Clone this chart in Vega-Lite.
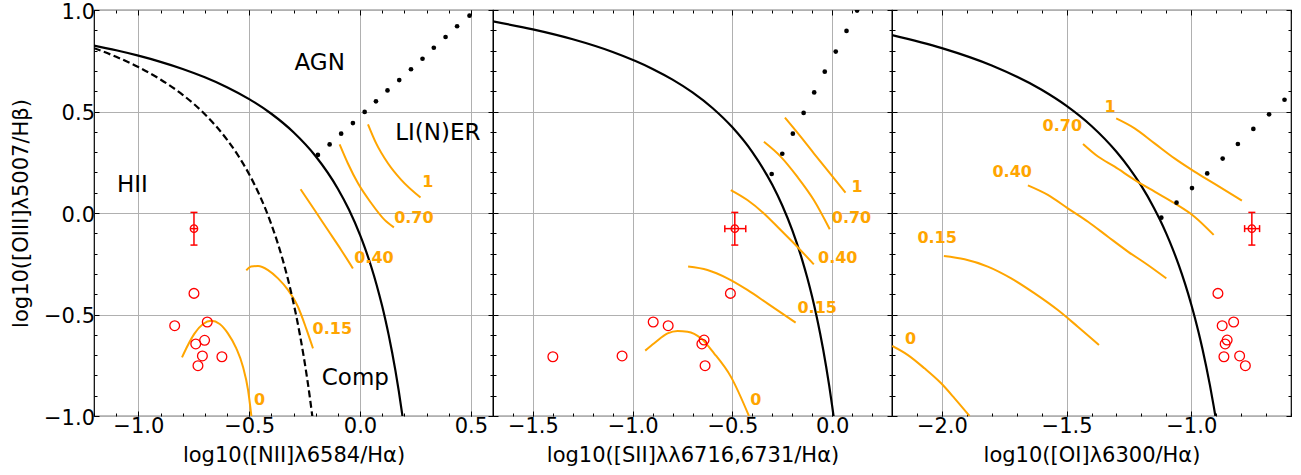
{
"$schema": "https://vega.github.io/schema/vega-lite/v6.json",
"background": "white",
"padding": {"left": 9, "top": 0, "right": 0, "bottom": 0},
"spacing": 0,
"bounds": "flush",
"config": {
 "font": "DejaVu Sans",
 "view": {"stroke": "black", "strokeWidth": 1.2},
 "axis": {"domain": false, "labelFont": "DejaVu Sans", "labelFontSize": 21, "labelColor": "black", "titleFont": "DejaVu Sans", "titleFontSize": 21, "titleFontWeight": "normal", "titleColor": "black", "tickColor": "black", "tickWidth": 1, "gridColor": "#b0b0b0", "gridWidth": 1, "gridOpacity": 1, "labelFlush": false, "labelOverlap": false, "labelPadding": 4, "titlePadding": 8},
 "text": {"font": "DejaVu Sans"}
},
"datasets": {
 "curves": [
  {"panel":1,"kind":"kewley","line":"K","x":-1.2,"y":0.825},
  {"panel":1,"kind":"kewley","line":"K","x":-1.1,"y":0.8015},
  {"panel":1,"kind":"kewley","line":"K","x":-1.0,"y":0.775},
  {"panel":1,"kind":"kewley","line":"K","x":-0.9,"y":0.7447},
  {"panel":1,"kind":"kewley","line":"K","x":-0.8,"y":0.7097},
  {"panel":1,"kind":"kewley","line":"K","x":-0.7,"y":0.6686},
  {"panel":1,"kind":"kewley","line":"K","x":-0.6,"y":0.6199},
  {"panel":1,"kind":"kewley","line":"K","x":-0.5,"y":0.5611},
  {"panel":1,"kind":"kewley","line":"K","x":-0.4,"y":0.4889},
  {"panel":1,"kind":"kewley","line":"K","x":-0.3,"y":0.3978},
  {"panel":1,"kind":"kewley","line":"K","x":-0.2,"y":0.2796},
  {"panel":1,"kind":"kewley","line":"K","x":-0.1,"y":0.1198},
  {"panel":1,"kind":"kewley","line":"K","x":-0.05,"y":0.0169},
  {"panel":1,"kind":"kewley","line":"K","x":0.0,"y":-0.1079},
  {"panel":1,"kind":"kewley","line":"K","x":0.02,"y":-0.1656},
  {"panel":1,"kind":"kewley","line":"K","x":0.05,"y":-0.2624},
  {"panel":1,"kind":"kewley","line":"K","x":0.075,"y":-0.3543},
  {"panel":1,"kind":"kewley","line":"K","x":0.1,"y":-0.4586},
  {"panel":1,"kind":"kewley","line":"K","x":0.115,"y":-0.5283},
  {"panel":1,"kind":"kewley","line":"K","x":0.13,"y":-0.6041},
  {"panel":1,"kind":"kewley","line":"K","x":0.145,"y":-0.6869},
  {"panel":1,"kind":"kewley","line":"K","x":0.16,"y":-0.7777},
  {"panel":1,"kind":"kewley","line":"K","x":0.175,"y":-0.8778},
  {"panel":1,"kind":"kewley","line":"K","x":0.19,"y":-0.9886},
  {"panel":1,"kind":"kewley","line":"K","x":0.1915,"y":-1.0003},
  {"panel":1,"kind":"kauffmann","line":"Ka","x":-1.2,"y":0.812},
  {"panel":1,"kind":"kauffmann","line":"Ka","x":-1.1,"y":0.7696},
  {"panel":1,"kind":"kauffmann","line":"Ka","x":-1.0,"y":0.719},
  {"panel":1,"kind":"kauffmann","line":"Ka","x":-0.9,"y":0.6579},
  {"panel":1,"kind":"kauffmann","line":"Ka","x":-0.8,"y":0.5824},
  {"panel":1,"kind":"kauffmann","line":"Ka","x":-0.7,"y":0.4867},
  {"panel":1,"kind":"kauffmann","line":"Ka","x":-0.6,"y":0.3615},
  {"panel":1,"kind":"kauffmann","line":"Ka","x":-0.55,"y":0.2833},
  {"panel":1,"kind":"kauffmann","line":"Ka","x":-0.5,"y":0.1909},
  {"panel":1,"kind":"kauffmann","line":"Ka","x":-0.45,"y":0.08},
  {"panel":1,"kind":"kauffmann","line":"Ka","x":-0.4,"y":-0.0556},
  {"panel":1,"kind":"kauffmann","line":"Ka","x":-0.35,"y":-0.225},
  {"panel":1,"kind":"kauffmann","line":"Ka","x":-0.325,"y":-0.3267},
  {"panel":1,"kind":"kauffmann","line":"Ka","x":-0.3,"y":-0.4429},
  {"panel":1,"kind":"kauffmann","line":"Ka","x":-0.285,"y":-0.5209},
  {"panel":1,"kind":"kauffmann","line":"Ka","x":-0.27,"y":-0.6063},
  {"panel":1,"kind":"kauffmann","line":"Ka","x":-0.255,"y":-0.7},
  {"panel":1,"kind":"kauffmann","line":"Ka","x":-0.24,"y":-0.8034},
  {"panel":1,"kind":"kauffmann","line":"Ka","x":-0.228,"y":-0.8942},
  {"panel":1,"kind":"kauffmann","line":"Ka","x":-0.215,"y":-1.0019},
  {"panel":1,"kind":"model","line":"0","x":-0.803,"y":-0.711},
  {"panel":1,"kind":"model","line":"0","x":-0.776,"y":-0.650},
  {"panel":1,"kind":"model","line":"0","x":-0.746,"y":-0.593},
  {"panel":1,"kind":"model","line":"0","x":-0.708,"y":-0.547},
  {"panel":1,"kind":"model","line":"0","x":-0.671,"y":-0.531},
  {"panel":1,"kind":"model","line":"0","x":-0.633,"y":-0.547},
  {"panel":1,"kind":"model","line":"0","x":-0.596,"y":-0.593},
  {"panel":1,"kind":"model","line":"0","x":-0.558,"y":-0.667},
  {"panel":1,"kind":"model","line":"0","x":-0.528,"y":-0.757},
  {"panel":1,"kind":"model","line":"0","x":-0.505,"y":-0.872},
  {"panel":1,"kind":"model","line":"0","x":-0.490,"y":-1.0},
  {"panel":1,"kind":"model","line":"0.15","x":-0.513,"y":-0.283},
  {"panel":1,"kind":"model","line":"0.15","x":-0.491,"y":-0.264},
  {"panel":1,"kind":"model","line":"0.15","x":-0.460,"y":-0.261},
  {"panel":1,"kind":"model","line":"0.15","x":-0.415,"y":-0.281},
  {"panel":1,"kind":"model","line":"0.15","x":-0.370,"y":-0.322},
  {"panel":1,"kind":"model","line":"0.15","x":-0.325,"y":-0.379},
  {"panel":1,"kind":"model","line":"0.15","x":-0.280,"y":-0.462},
  {"panel":1,"kind":"model","line":"0.15","x":-0.243,"y":-0.568},
  {"panel":1,"kind":"model","line":"0.15","x":-0.212,"y":-0.667},
  {"panel":1,"kind":"model","line":"0.40","x":-0.268,"y":0.117},
  {"panel":1,"kind":"model","line":"0.40","x":-0.205,"y":0.015},
  {"panel":1,"kind":"model","line":"0.40","x":-0.145,"y":-0.084},
  {"panel":1,"kind":"model","line":"0.40","x":-0.085,"y":-0.182},
  {"panel":1,"kind":"model","line":"0.40","x":-0.032,"y":-0.273},
  {"panel":1,"kind":"model","line":"0.70","x":-0.092,"y":0.338},
  {"panel":1,"kind":"model","line":"0.70","x":-0.055,"y":0.245},
  {"panel":1,"kind":"model","line":"0.70","x":-0.009,"y":0.146},
  {"panel":1,"kind":"model","line":"0.70","x":0.051,"y":0.048},
  {"panel":1,"kind":"model","line":"0.70","x":0.111,"y":-0.034},
  {"panel":1,"kind":"model","line":"0.70","x":0.153,"y":-0.071},
  {"panel":1,"kind":"model","line":"1","x":0.036,"y":0.437},
  {"panel":1,"kind":"model","line":"1","x":0.073,"y":0.343},
  {"panel":1,"kind":"model","line":"1","x":0.126,"y":0.245},
  {"panel":1,"kind":"model","line":"1","x":0.186,"y":0.163},
  {"panel":1,"kind":"model","line":"1","x":0.273,"y":0.076},
  {"panel":2,"kind":"kewley","line":"K","x":-1.7,"y":0.9436},
  {"panel":2,"kind":"kewley","line":"K","x":-1.5,"y":0.9044},
  {"panel":2,"kind":"kewley","line":"K","x":-1.3,"y":0.8556},
  {"panel":2,"kind":"kewley","line":"K","x":-1.1,"y":0.793},
  {"panel":2,"kind":"kewley","line":"K","x":-0.9,"y":0.7098},
  {"panel":2,"kind":"kewley","line":"K","x":-0.8,"y":0.6571},
  {"panel":2,"kind":"kewley","line":"K","x":-0.7,"y":0.5941},
  {"panel":2,"kind":"kewley","line":"K","x":-0.6,"y":0.5174},
  {"panel":2,"kind":"kewley","line":"K","x":-0.5,"y":0.422},
  {"panel":2,"kind":"kewley","line":"K","x":-0.4,"y":0.3},
  {"panel":2,"kind":"kewley","line":"K","x":-0.3,"y":0.1387},
  {"panel":2,"kind":"kewley","line":"K","x":-0.25,"y":0.0368},
  {"panel":2,"kind":"kewley","line":"K","x":-0.2,"y":-0.0846},
  {"panel":2,"kind":"kewley","line":"K","x":-0.15,"y":-0.2319},
  {"panel":2,"kind":"kewley","line":"K","x":-0.125,"y":-0.318},
  {"panel":2,"kind":"kewley","line":"K","x":-0.1,"y":-0.4143},
  {"panel":2,"kind":"kewley","line":"K","x":-0.08,"y":-0.5},
  {"panel":2,"kind":"kewley","line":"K","x":-0.06,"y":-0.5947},
  {"panel":2,"kind":"kewley","line":"K","x":-0.045,"y":-0.6726},
  {"panel":2,"kind":"kewley","line":"K","x":-0.03,"y":-0.7571},
  {"panel":2,"kind":"kewley","line":"K","x":-0.015,"y":-0.8493},
  {"panel":2,"kind":"kewley","line":"K","x":0.0,"y":-0.95},
  {"panel":2,"kind":"kewley","line":"K","x":0.007,"y":-1.0003},
  {"panel":2,"kind":"model","line":"1","x":-0.237,"y":0.470},
  {"panel":2,"kind":"model","line":"1","x":-0.158,"y":0.376},
  {"panel":2,"kind":"model","line":"1","x":-0.092,"y":0.294},
  {"panel":2,"kind":"model","line":"1","x":-0.025,"y":0.212},
  {"panel":2,"kind":"model","line":"1","x":0.067,"y":0.100},
  {"panel":2,"kind":"model","line":"0.70","x":-0.342,"y":0.351},
  {"panel":2,"kind":"model","line":"0.70","x":-0.258,"y":0.278},
  {"panel":2,"kind":"model","line":"0.70","x":-0.175,"y":0.179},
  {"panel":2,"kind":"model","line":"0.70","x":-0.092,"y":0.064},
  {"panel":2,"kind":"model","line":"0.70","x":-0.012,"y":-0.080},
  {"panel":2,"kind":"model","line":"0.40","x":-0.508,"y":0.113},
  {"panel":2,"kind":"model","line":"0.40","x":-0.425,"y":0.064},
  {"panel":2,"kind":"model","line":"0.40","x":-0.342,"y":-0.002},
  {"panel":2,"kind":"model","line":"0.40","x":-0.258,"y":-0.084},
  {"panel":2,"kind":"model","line":"0.40","x":-0.175,"y":-0.166},
  {"panel":2,"kind":"model","line":"0.40","x":-0.092,"y":-0.253},
  {"panel":2,"kind":"model","line":"0.15","x":-0.722,"y":-0.264},
  {"panel":2,"kind":"model","line":"0.15","x":-0.625,"y":-0.281},
  {"panel":2,"kind":"model","line":"0.15","x":-0.525,"y":-0.322},
  {"panel":2,"kind":"model","line":"0.15","x":-0.425,"y":-0.379},
  {"panel":2,"kind":"model","line":"0.15","x":-0.325,"y":-0.445},
  {"panel":2,"kind":"model","line":"0.15","x":-0.183,"y":-0.540},
  {"panel":2,"kind":"model","line":"0","x":-0.937,"y":-0.678},
  {"panel":2,"kind":"model","line":"0","x":-0.892,"y":-0.642},
  {"panel":2,"kind":"model","line":"0","x":-0.825,"y":-0.593},
  {"panel":2,"kind":"model","line":"0","x":-0.775,"y":-0.581},
  {"panel":2,"kind":"model","line":"0","x":-0.725,"y":-0.585},
  {"panel":2,"kind":"model","line":"0","x":-0.658,"y":-0.617},
  {"panel":2,"kind":"model","line":"0","x":-0.592,"y":-0.691},
  {"panel":2,"kind":"model","line":"0","x":-0.508,"y":-0.806},
  {"panel":2,"kind":"model","line":"0","x":-0.417,"y":-1.0},
  {"panel":3,"kind":"kewley","line":"K","x":-2.2,"y":0.8766},
  {"panel":3,"kind":"kewley","line":"K","x":-2.0,"y":0.8123},
  {"panel":3,"kind":"kewley","line":"K","x":-1.8,"y":0.7267},
  {"panel":3,"kind":"kewley","line":"K","x":-1.6,"y":0.6072},
  {"panel":3,"kind":"kewley","line":"K","x":-1.5,"y":0.5278},
  {"panel":3,"kind":"kewley","line":"K","x":-1.4,"y":0.4288},
  {"panel":3,"kind":"kewley","line":"K","x":-1.3,"y":0.3018},
  {"panel":3,"kind":"kewley","line":"K","x":-1.25,"y":0.2239},
  {"panel":3,"kind":"kewley","line":"K","x":-1.2,"y":0.1333},
  {"panel":3,"kind":"kewley","line":"K","x":-1.15,"y":0.0264},
  {"panel":3,"kind":"kewley","line":"K","x":-1.125,"y":-0.0345},
  {"panel":3,"kind":"kewley","line":"K","x":-1.1,"y":-0.1014},
  {"panel":3,"kind":"kewley","line":"K","x":-1.075,"y":-0.1752},
  {"panel":3,"kind":"kewley","line":"K","x":-1.05,"y":-0.257},
  {"panel":3,"kind":"kewley","line":"K","x":-1.025,"y":-0.3482},
  {"panel":3,"kind":"kewley","line":"K","x":-1.0,"y":-0.4505},
  {"panel":3,"kind":"kewley","line":"K","x":-0.985,"y":-0.5181},
  {"panel":3,"kind":"kewley","line":"K","x":-0.97,"y":-0.5911},
  {"panel":3,"kind":"kewley","line":"K","x":-0.955,"y":-0.67},
  {"panel":3,"kind":"kewley","line":"K","x":-0.94,"y":-0.7557},
  {"panel":3,"kind":"kewley","line":"K","x":-0.925,"y":-0.8491},
  {"panel":3,"kind":"kewley","line":"K","x":-0.91,"y":-0.9513},
  {"panel":3,"kind":"kewley","line":"K","x":-0.903,"y":-1.0023},
  {"panel":3,"kind":"model","line":"1","x":-1.301,"y":0.466},
  {"panel":3,"kind":"model","line":"1","x":-1.227,"y":0.417},
  {"panel":3,"kind":"model","line":"1","x":-1.147,"y":0.343},
  {"panel":3,"kind":"model","line":"1","x":-1.067,"y":0.269},
  {"panel":3,"kind":"model","line":"1","x":-0.987,"y":0.204},
  {"panel":3,"kind":"model","line":"1","x":-0.906,"y":0.143},
  {"panel":3,"kind":"model","line":"1","x":-0.797,"y":0.061},
  {"panel":3,"kind":"model","line":"0.70","x":-1.434,"y":0.340},
  {"panel":3,"kind":"model","line":"0.70","x":-1.374,"y":0.278},
  {"panel":3,"kind":"model","line":"0.70","x":-1.307,"y":0.228},
  {"panel":3,"kind":"model","line":"0.70","x":-1.227,"y":0.163},
  {"panel":3,"kind":"model","line":"0.70","x":-1.147,"y":0.105},
  {"panel":3,"kind":"model","line":"0.70","x":-1.067,"y":0.048},
  {"panel":3,"kind":"model","line":"0.70","x":-0.987,"y":-0.018},
  {"panel":3,"kind":"model","line":"0.70","x":-0.910,"y":-0.108},
  {"panel":3,"kind":"model","line":"0.40","x":-1.655,"y":0.136},
  {"panel":3,"kind":"model","line":"0.40","x":-1.575,"y":0.089},
  {"panel":3,"kind":"model","line":"0.40","x":-1.495,"y":0.023},
  {"panel":3,"kind":"model","line":"0.40","x":-1.414,"y":-0.043},
  {"panel":3,"kind":"model","line":"0.40","x":-1.334,"y":-0.117},
  {"panel":3,"kind":"model","line":"0.40","x":-1.254,"y":-0.190},
  {"panel":3,"kind":"model","line":"0.40","x":-1.174,"y":-0.256},
  {"panel":3,"kind":"model","line":"0.40","x":-1.100,"y":-0.322},
  {"panel":3,"kind":"model","line":"0.15","x":-1.992,"y":-0.212},
  {"panel":3,"kind":"model","line":"0.15","x":-1.909,"y":-0.228},
  {"panel":3,"kind":"model","line":"0.15","x":-1.816,"y":-0.264},
  {"panel":3,"kind":"model","line":"0.15","x":-1.722,"y":-0.322},
  {"panel":3,"kind":"model","line":"0.15","x":-1.628,"y":-0.396},
  {"panel":3,"kind":"model","line":"0.15","x":-1.535,"y":-0.478},
  {"panel":3,"kind":"model","line":"0.15","x":-1.455,"y":-0.560},
  {"panel":3,"kind":"model","line":"0.15","x":-1.370,"y":-0.650},
  {"panel":3,"kind":"model","line":"0","x":-2.199,"y":-0.655},
  {"panel":3,"kind":"model","line":"0","x":-2.136,"y":-0.700},
  {"panel":3,"kind":"model","line":"0","x":-2.070,"y":-0.765},
  {"panel":3,"kind":"model","line":"0","x":-2.003,"y":-0.839},
  {"panel":3,"kind":"model","line":"0","x":-1.949,"y":-0.913},
  {"panel":3,"kind":"model","line":"0","x":-1.889,"y":-1.0}
 ],
 "dots": [
  {"panel":1,"x":-0.190,"y":0.286},{"panel":1,"x":-0.137,"y":0.338},{"panel":1,"x":-0.085,"y":0.391},{"panel":1,"x":-0.032,"y":0.443},{"panel":1,"x":0.021,"y":0.498},{"panel":1,"x":0.072,"y":0.550},{"panel":1,"x":0.124,"y":0.604},{"panel":1,"x":0.177,"y":0.655},{"panel":1,"x":0.230,"y":0.708},{"panel":1,"x":0.282,"y":0.760},{"panel":1,"x":0.333,"y":0.814},{"panel":1,"x":0.386,"y":0.867},{"panel":1,"x":0.438,"y":0.920},{"panel":1,"x":0.494,"y":0.972},
  {"panel":2,"x":-0.303,"y":0.192},{"panel":2,"x":-0.250,"y":0.292},{"panel":2,"x":-0.197,"y":0.391},{"panel":2,"x":-0.143,"y":0.493},{"panel":2,"x":-0.090,"y":0.594},{"panel":2,"x":-0.037,"y":0.696},{"panel":2,"x":0.018,"y":0.795},{"panel":2,"x":0.072,"y":0.897},{"panel":2,"x":0.125,"y":0.997},
  {"panel":3,"x":-1.120,"y":-0.023},{"panel":3,"x":-1.059,"y":0.051},{"panel":3,"x":-0.997,"y":0.123},{"panel":3,"x":-0.936,"y":0.195},{"panel":3,"x":-0.874,"y":0.268},{"panel":3,"x":-0.813,"y":0.340},{"panel":3,"x":-0.751,"y":0.414},{"panel":3,"x":-0.688,"y":0.486},{"panel":3,"x":-0.626,"y":0.558}
 ],
 "obs": [
  {"panel":1,"x":-0.749,"y":-0.396},{"panel":1,"x":-0.836,"y":-0.555},{"panel":1,"x":-0.689,"y":-0.537},{"panel":1,"x":-0.741,"y":-0.645},{"panel":1,"x":-0.701,"y":-0.627},{"panel":1,"x":-0.711,"y":-0.704},{"panel":1,"x":-0.731,"y":-0.752},{"panel":1,"x":-0.623,"y":-0.708},
  {"panel":2,"x":-0.510,"y":-0.396},{"panel":2,"x":-0.822,"y":-0.555},{"panel":2,"x":-0.897,"y":-0.537},{"panel":2,"x":-0.653,"y":-0.645},{"panel":2,"x":-0.642,"y":-0.626},{"panel":2,"x":-1.053,"y":-0.704},{"panel":2,"x":-0.637,"y":-0.752},{"panel":2,"x":-1.400,"y":-0.708},
  {"panel":3,"x":-0.893,"y":-0.396},{"panel":3,"x":-0.876,"y":-0.555},{"panel":3,"x":-0.830,"y":-0.537},{"panel":3,"x":-0.864,"y":-0.645},{"panel":3,"x":-0.856,"y":-0.626},{"panel":3,"x":-0.806,"y":-0.704},{"panel":3,"x":-0.869,"y":-0.708},{"panel":3,"x":-0.783,"y":-0.752}
 ],
 "star": [
  {"panel":1,"x":-0.749,"y":-0.077,"xlo":-0.764,"xhi":-0.734,"ylo":-0.158,"yhi":0.003},
  {"panel":2,"x":-0.488,"y":-0.077,"xlo":-0.538,"xhi":-0.433,"ylo":-0.158,"yhi":0.003},
  {"panel":3,"x":-0.757,"y":-0.077,"xlo":-0.786,"xhi":-0.726,"ylo":-0.158,"yhi":0.003}
 ],
 "olabels": [
  {"panel":1,"x":0.306,"y":0.154,"text":"1"},{"panel":1,"x":0.243,"y":-0.023,"text":"0.70"},{"panel":1,"x":0.063,"y":-0.220,"text":"0.40"},{"panel":1,"x":-0.125,"y":-0.573,"text":"0.15"},{"panel":1,"x":-0.453,"y":-0.921,"text":"0"},
  {"panel":2,"x":0.125,"y":0.130,"text":"1"},{"panel":2,"x":0.097,"y":-0.023,"text":"0.70"},{"panel":2,"x":0.028,"y":-0.220,"text":"0.40"},{"panel":2,"x":-0.075,"y":-0.470,"text":"0.15"},{"panel":2,"x":-0.383,"y":-0.921,"text":"0"},
  {"panel":3,"x":-1.326,"y":0.524,"text":"1"},{"panel":3,"x":-1.517,"y":0.429,"text":"0.70"},{"panel":3,"x":-1.718,"y":0.204,"text":"0.40"},{"panel":3,"x":-2.019,"y":-0.121,"text":"0.15"},{"panel":3,"x":-2.126,"y":-0.622,"text":"0"}
 ],
 "regions": [
  {"panel":1,"x":-0.182,"y":0.737,"text":"AGN"},{"panel":1,"x":-1.027,"y":0.138,"text":"HII"},{"panel":1,"x":0.351,"y":0.392,"text":"LI(N)ER"},{"panel":1,"x":-0.021,"y":-0.811,"text":"Comp"}
 ]
},
"hconcat": [
 {
  "width": 399, "height": 406,
  "resolve": {"axis": {"x": "independent", "y": "independent"}},
  "layer": [
   {"data": {"name": "curves"}, "transform": [{"filter": "datum.panel == 1 && datum.kind == 'kewley'"}],
    "mark": {"type": "line", "color": "black", "strokeWidth": 2.2, "clip": true, "interpolate": "monotone"},
    "encoding": {
     "x": {"field": "x", "type": "quantitative", "scale": {"domain": [-1.2, 0.6], "nice": false, "zero": false}, "axis": {"orient": "bottom", "values": [-1.0, -0.5, 0.0, 0.5], "format": ".1f", "tickSize": -5, "grid": true, "title": "log10([NII]λ6584/Hα)"}},
     "y": {"field": "y", "type": "quantitative", "scale": {"domain": [-1, 1], "nice": false, "zero": false}, "axis": {"orient": "left", "values": [-1.0, -0.5, 0.0, 0.5, 1.0], "format": ".1f", "tickSize": -5, "labelPadding": 4.5, "labelOffset": 2, "grid": true, "title": "log10([OIII]λ5007/Hβ)", "titlePadding": 12.5}}
    }},
   {"data": {"name": "curves"}, "transform": [{"filter": "datum.panel == 1 && datum.kind == 'model'"}],
    "mark": {"type": "line", "color": "orange", "strokeWidth": 2, "clip": true, "interpolate": "monotone"},
    "encoding": {
     "x": {"field": "x", "type": "quantitative", "scale": {"domain": [-1.2, 0.6], "nice": false, "zero": false}, "axis": {"orient": "bottom", "values": [-1.2,-1.1,-1.0,-0.9,-0.8,-0.7,-0.6,-0.5,-0.4,-0.3,-0.2,-0.1,0,0.1,0.2,0.3,0.4,0.5,0.6], "tickSize": -3, "labels": false, "grid": false, "title": null}},
     "y": {"field": "y", "type": "quantitative", "scale": {"domain": [-1, 1], "nice": false, "zero": false}, "axis": {"orient": "left", "values": [-1.0,-0.9,-0.8,-0.7,-0.6,-0.5,-0.4,-0.3,-0.2,-0.1,0,0.1,0.2,0.3,0.4,0.5,0.6,0.7,0.8,0.9,1.0], "tickSize": -3, "labels": false, "grid": false, "title": null}},
     "detail": {"field": "line", "type": "nominal"}
    }},
   {"data": {"name": "dots"}, "transform": [{"filter": "datum.panel == 1"}],
    "mark": {"type": "circle", "color": "black", "size": 22, "opacity": 1, "clip": true},
    "encoding": {
     "x": {"field": "x", "type": "quantitative", "scale": {"domain": [-1.2, 0.6], "nice": false, "zero": false}, "axis": {"orient": "top", "values": [-1.0, -0.5, 0.0, 0.5], "tickSize": -5, "labels": false, "grid": false, "title": null}},
     "y": {"field": "y", "type": "quantitative", "scale": {"domain": [-1, 1], "nice": false, "zero": false}, "axis": {"orient": "right", "values": [-1.0, -0.5, 0.0, 0.5, 1.0], "tickSize": -5, "labels": false, "grid": false, "title": null}}
    }},
   {"data": {"name": "obs"}, "transform": [{"filter": "datum.panel == 1"}],
    "mark": {"type": "point", "shape": "circle", "filled": false, "color": "red", "size": 95, "strokeWidth": 1.3, "opacity": 1, "clip": true},
    "encoding": {
     "x": {"field": "x", "type": "quantitative", "scale": {"domain": [-1.2, 0.6], "nice": false, "zero": false}, "axis": {"orient": "top", "values": [-1.2,-1.1,-1.0,-0.9,-0.8,-0.7,-0.6,-0.5,-0.4,-0.3,-0.2,-0.1,0,0.1,0.2,0.3,0.4,0.5,0.6], "tickSize": -3, "labels": false, "grid": false, "title": null}},
     "y": {"field": "y", "type": "quantitative", "scale": {"domain": [-1, 1], "nice": false, "zero": false}, "axis": {"orient": "right", "values": [-1.0,-0.9,-0.8,-0.7,-0.6,-0.5,-0.4,-0.3,-0.2,-0.1,0,0.1,0.2,0.3,0.4,0.5,0.6,0.7,0.8,0.9,1.0], "tickSize": -3, "labels": false, "grid": false, "title": null}}
    }},
   {"data": {"name": "curves"}, "transform": [{"filter": "datum.panel == 1 && datum.kind == 'kauffmann'"}],
    "mark": {"type": "line", "color": "black", "strokeWidth": 2.2, "strokeDash": [7, 3.5], "clip": true, "interpolate": "monotone"},
    "encoding": {
     "x": {"field": "x", "type": "quantitative", "scale": {"domain": [-1.2, 0.6], "nice": false, "zero": false}, "axis": null},
     "y": {"field": "y", "type": "quantitative", "scale": {"domain": [-1, 1], "nice": false, "zero": false}, "axis": null}
    }},
   {"data": {"name": "olabels"}, "transform": [{"filter": "datum.panel == 1"}],
    "mark": {"type": "text", "color": "orange", "fontSize": 16, "fontWeight": "bold", "align": "center", "baseline": "middle"},
    "encoding": {
     "x": {"field": "x", "type": "quantitative", "scale": {"domain": [-1.2, 0.6], "nice": false, "zero": false}, "axis": null},
     "y": {"field": "y", "type": "quantitative", "scale": {"domain": [-1, 1], "nice": false, "zero": false}, "axis": null},
     "text": {"field": "text", "type": "nominal"}
    }},
   {"data": {"name": "regions"}, "transform": [{"filter": "datum.panel == 1"}],
    "mark": {"type": "text", "color": "black", "fontSize": 23, "align": "center", "baseline": "middle"},
    "encoding": {
     "x": {"field": "x", "type": "quantitative", "scale": {"domain": [-1.2, 0.6], "nice": false, "zero": false}, "axis": null},
     "y": {"field": "y", "type": "quantitative", "scale": {"domain": [-1, 1], "nice": false, "zero": false}, "axis": null},
     "text": {"field": "text", "type": "nominal"}
    }},
   {"data": {"name": "star"}, "transform": [{"filter": "datum.panel == 1"}],
    "mark": {"type": "rule", "color": "red", "strokeWidth": 1.5},
    "encoding": {
     "x": {"field": "x", "type": "quantitative", "scale": {"domain": [-1.2, 0.6], "nice": false, "zero": false}, "axis": null},
     "y": {"field": "ylo", "type": "quantitative", "scale": {"domain": [-1, 1], "nice": false, "zero": false}, "axis": null},
     "y2": {"field": "yhi"}
    }},
   {"data": {"name": "star"}, "transform": [{"filter": "datum.panel == 1"}],
    "mark": {"type": "rule", "color": "red", "strokeWidth": 1.5},
    "encoding": {
     "x": {"field": "xlo", "type": "quantitative", "scale": {"domain": [-1.2, 0.6], "nice": false, "zero": false}, "axis": null},
     "x2": {"field": "xhi"},
     "y": {"field": "y", "type": "quantitative", "scale": {"domain": [-1, 1], "nice": false, "zero": false}, "axis": null}
    }},
   {"data": {"name": "star"}, "transform": [{"filter": "datum.panel == 1"}],
    "mark": {"type": "tick", "orient": "horizontal", "color": "red", "size": 7, "thickness": 1.5, "opacity": 1},
    "encoding": {
     "x": {"field": "x", "type": "quantitative", "scale": {"domain": [-1.2, 0.6], "nice": false, "zero": false}, "axis": null},
     "y": {"field": "ylo", "type": "quantitative", "scale": {"domain": [-1, 1], "nice": false, "zero": false}, "axis": null}
    }},
   {"data": {"name": "star"}, "transform": [{"filter": "datum.panel == 1"}],
    "mark": {"type": "tick", "orient": "horizontal", "color": "red", "size": 7, "thickness": 1.5, "opacity": 1},
    "encoding": {
     "x": {"field": "x", "type": "quantitative", "scale": {"domain": [-1.2, 0.6], "nice": false, "zero": false}, "axis": null},
     "y": {"field": "yhi", "type": "quantitative", "scale": {"domain": [-1, 1], "nice": false, "zero": false}, "axis": null}
    }},
   {"data": {"name": "star"}, "transform": [{"filter": "datum.panel == 1"}],
    "mark": {"type": "point", "shape": "circle", "filled": false, "color": "red", "size": 55, "strokeWidth": 1.3, "opacity": 1},
    "encoding": {
     "x": {"field": "x", "type": "quantitative", "scale": {"domain": [-1.2, 0.6], "nice": false, "zero": false}, "axis": null},
     "y": {"field": "y", "type": "quantitative", "scale": {"domain": [-1, 1], "nice": false, "zero": false}, "axis": null}
    }}
  ]
 },
 {
  "width": 399, "height": 406,
  "resolve": {"axis": {"x": "independent", "y": "independent"}},
  "layer": [
   {"data": {"name": "curves"}, "transform": [{"filter": "datum.panel == 2 && datum.kind == 'kewley'"}],
    "mark": {"type": "line", "color": "black", "strokeWidth": 2.2, "clip": true, "interpolate": "monotone"},
    "encoding": {
     "x": {"field": "x", "type": "quantitative", "scale": {"domain": [-1.7, 0.3], "nice": false, "zero": false}, "axis": {"orient": "bottom", "values": [-1.5, -1.0, -0.5, 0.0], "format": ".1f", "tickSize": -5, "grid": true, "title": "log10([SII]λλ6716,6731/Hα)"}},
     "y": {"field": "y", "type": "quantitative", "scale": {"domain": [-1, 1], "nice": false, "zero": false}, "axis": {"orient": "left", "values": [-1.0, -0.5, 0.0, 0.5, 1.0], "tickSize": -5, "labels": false, "grid": true, "title": null}}
    }},
   {"data": {"name": "curves"}, "transform": [{"filter": "datum.panel == 2 && datum.kind == 'model'"}],
    "mark": {"type": "line", "color": "orange", "strokeWidth": 2, "clip": true, "interpolate": "monotone"},
    "encoding": {
     "x": {"field": "x", "type": "quantitative", "scale": {"domain": [-1.7, 0.3], "nice": false, "zero": false}, "axis": {"orient": "bottom", "values": [-1.7,-1.6,-1.5,-1.4,-1.3,-1.2,-1.1,-1.0,-0.9,-0.8,-0.7,-0.6,-0.5,-0.4,-0.3,-0.2,-0.1,0,0.1,0.2,0.3], "tickSize": -3, "labels": false, "grid": false, "title": null}},
     "y": {"field": "y", "type": "quantitative", "scale": {"domain": [-1, 1], "nice": false, "zero": false}, "axis": {"orient": "left", "values": [-1.0,-0.9,-0.8,-0.7,-0.6,-0.5,-0.4,-0.3,-0.2,-0.1,0,0.1,0.2,0.3,0.4,0.5,0.6,0.7,0.8,0.9,1.0], "tickSize": -3, "labels": false, "grid": false, "title": null}},
     "detail": {"field": "line", "type": "nominal"}
    }},
   {"data": {"name": "dots"}, "transform": [{"filter": "datum.panel == 2"}],
    "mark": {"type": "circle", "color": "black", "size": 22, "opacity": 1, "clip": true},
    "encoding": {
     "x": {"field": "x", "type": "quantitative", "scale": {"domain": [-1.7, 0.3], "nice": false, "zero": false}, "axis": {"orient": "top", "values": [-1.5, -1.0, -0.5, 0.0], "tickSize": -5, "labels": false, "grid": false, "title": null}},
     "y": {"field": "y", "type": "quantitative", "scale": {"domain": [-1, 1], "nice": false, "zero": false}, "axis": {"orient": "right", "values": [-1.0, -0.5, 0.0, 0.5, 1.0], "tickSize": -5, "labels": false, "grid": false, "title": null}}
    }},
   {"data": {"name": "obs"}, "transform": [{"filter": "datum.panel == 2"}],
    "mark": {"type": "point", "shape": "circle", "filled": false, "color": "red", "size": 95, "strokeWidth": 1.3, "opacity": 1, "clip": true},
    "encoding": {
     "x": {"field": "x", "type": "quantitative", "scale": {"domain": [-1.7, 0.3], "nice": false, "zero": false}, "axis": {"orient": "top", "values": [-1.7,-1.6,-1.5,-1.4,-1.3,-1.2,-1.1,-1.0,-0.9,-0.8,-0.7,-0.6,-0.5,-0.4,-0.3,-0.2,-0.1,0,0.1,0.2,0.3], "tickSize": -3, "labels": false, "grid": false, "title": null}},
     "y": {"field": "y", "type": "quantitative", "scale": {"domain": [-1, 1], "nice": false, "zero": false}, "axis": {"orient": "right", "values": [-1.0,-0.9,-0.8,-0.7,-0.6,-0.5,-0.4,-0.3,-0.2,-0.1,0,0.1,0.2,0.3,0.4,0.5,0.6,0.7,0.8,0.9,1.0], "tickSize": -3, "labels": false, "grid": false, "title": null}}
    }},
   {"data": {"name": "olabels"}, "transform": [{"filter": "datum.panel == 2"}],
    "mark": {"type": "text", "color": "orange", "fontSize": 16, "fontWeight": "bold", "align": "center", "baseline": "middle"},
    "encoding": {
     "x": {"field": "x", "type": "quantitative", "scale": {"domain": [-1.7, 0.3], "nice": false, "zero": false}, "axis": null},
     "y": {"field": "y", "type": "quantitative", "scale": {"domain": [-1, 1], "nice": false, "zero": false}, "axis": null},
     "text": {"field": "text", "type": "nominal"}
    }},
   {"data": {"name": "star"}, "transform": [{"filter": "datum.panel == 2"}],
    "mark": {"type": "rule", "color": "red", "strokeWidth": 1.5},
    "encoding": {
     "x": {"field": "x", "type": "quantitative", "scale": {"domain": [-1.7, 0.3], "nice": false, "zero": false}, "axis": null},
     "y": {"field": "ylo", "type": "quantitative", "scale": {"domain": [-1, 1], "nice": false, "zero": false}, "axis": null},
     "y2": {"field": "yhi"}
    }},
   {"data": {"name": "star"}, "transform": [{"filter": "datum.panel == 2"}],
    "mark": {"type": "rule", "color": "red", "strokeWidth": 1.5},
    "encoding": {
     "x": {"field": "xlo", "type": "quantitative", "scale": {"domain": [-1.7, 0.3], "nice": false, "zero": false}, "axis": null},
     "x2": {"field": "xhi"},
     "y": {"field": "y", "type": "quantitative", "scale": {"domain": [-1, 1], "nice": false, "zero": false}, "axis": null}
    }},
   {"data": {"name": "star"}, "transform": [{"filter": "datum.panel == 2"}],
    "mark": {"type": "tick", "orient": "horizontal", "color": "red", "size": 7, "thickness": 1.5, "opacity": 1},
    "encoding": {
     "x": {"field": "x", "type": "quantitative", "scale": {"domain": [-1.7, 0.3], "nice": false, "zero": false}, "axis": null},
     "y": {"field": "ylo", "type": "quantitative", "scale": {"domain": [-1, 1], "nice": false, "zero": false}, "axis": null}
    }},
   {"data": {"name": "star"}, "transform": [{"filter": "datum.panel == 2"}],
    "mark": {"type": "tick", "orient": "horizontal", "color": "red", "size": 7, "thickness": 1.5, "opacity": 1},
    "encoding": {
     "x": {"field": "x", "type": "quantitative", "scale": {"domain": [-1.7, 0.3], "nice": false, "zero": false}, "axis": null},
     "y": {"field": "yhi", "type": "quantitative", "scale": {"domain": [-1, 1], "nice": false, "zero": false}, "axis": null}
    }},
   {"data": {"name": "star"}, "transform": [{"filter": "datum.panel == 2"}],
    "mark": {"type": "tick", "orient": "vertical", "color": "red", "size": 7, "thickness": 1.5, "opacity": 1},
    "encoding": {
     "x": {"field": "xlo", "type": "quantitative", "scale": {"domain": [-1.7, 0.3], "nice": false, "zero": false}, "axis": null},
     "y": {"field": "y", "type": "quantitative", "scale": {"domain": [-1, 1], "nice": false, "zero": false}, "axis": null}
    }},
   {"data": {"name": "star"}, "transform": [{"filter": "datum.panel == 2"}],
    "mark": {"type": "tick", "orient": "vertical", "color": "red", "size": 7, "thickness": 1.5, "opacity": 1},
    "encoding": {
     "x": {"field": "xhi", "type": "quantitative", "scale": {"domain": [-1.7, 0.3], "nice": false, "zero": false}, "axis": null},
     "y": {"field": "y", "type": "quantitative", "scale": {"domain": [-1, 1], "nice": false, "zero": false}, "axis": null}
    }},
   {"data": {"name": "star"}, "transform": [{"filter": "datum.panel == 2"}],
    "mark": {"type": "point", "shape": "circle", "filled": false, "color": "red", "size": 55, "strokeWidth": 1.3, "opacity": 1},
    "encoding": {
     "x": {"field": "x", "type": "quantitative", "scale": {"domain": [-1.7, 0.3], "nice": false, "zero": false}, "axis": null},
     "y": {"field": "y", "type": "quantitative", "scale": {"domain": [-1, 1], "nice": false, "zero": false}, "axis": null}
    }}
  ]
 },
 {
  "width": 399, "height": 406,
  "resolve": {"axis": {"x": "independent", "y": "independent"}},
  "layer": [
   {"data": {"name": "curves"}, "transform": [{"filter": "datum.panel == 3 && datum.kind == 'kewley'"}],
    "mark": {"type": "line", "color": "black", "strokeWidth": 2.2, "clip": true, "interpolate": "monotone"},
    "encoding": {
     "x": {"field": "x", "type": "quantitative", "scale": {"domain": [-2.2, -0.6], "nice": false, "zero": false}, "axis": {"orient": "bottom", "values": [-2.0, -1.5, -1.0], "format": ".1f", "tickSize": -5, "grid": true, "title": "log10([OI]λ6300/Hα)"}},
     "y": {"field": "y", "type": "quantitative", "scale": {"domain": [-1, 1], "nice": false, "zero": false}, "axis": {"orient": "left", "values": [-1.0, -0.5, 0.0, 0.5, 1.0], "tickSize": -5, "labels": false, "grid": true, "title": null}}
    }},
   {"data": {"name": "curves"}, "transform": [{"filter": "datum.panel == 3 && datum.kind == 'model'"}],
    "mark": {"type": "line", "color": "orange", "strokeWidth": 2, "clip": true, "interpolate": "monotone"},
    "encoding": {
     "x": {"field": "x", "type": "quantitative", "scale": {"domain": [-2.2, -0.6], "nice": false, "zero": false}, "axis": {"orient": "bottom", "values": [-2.2,-2.1,-2.0,-1.9,-1.8,-1.7,-1.6,-1.5,-1.4,-1.3,-1.2,-1.1,-1.0,-0.9,-0.8,-0.7,-0.6], "tickSize": -3, "labels": false, "grid": false, "title": null}},
     "y": {"field": "y", "type": "quantitative", "scale": {"domain": [-1, 1], "nice": false, "zero": false}, "axis": {"orient": "left", "values": [-1.0,-0.9,-0.8,-0.7,-0.6,-0.5,-0.4,-0.3,-0.2,-0.1,0,0.1,0.2,0.3,0.4,0.5,0.6,0.7,0.8,0.9,1.0], "tickSize": -3, "labels": false, "grid": false, "title": null}},
     "detail": {"field": "line", "type": "nominal"}
    }},
   {"data": {"name": "dots"}, "transform": [{"filter": "datum.panel == 3"}],
    "mark": {"type": "circle", "color": "black", "size": 22, "opacity": 1, "clip": true},
    "encoding": {
     "x": {"field": "x", "type": "quantitative", "scale": {"domain": [-2.2, -0.6], "nice": false, "zero": false}, "axis": {"orient": "top", "values": [-2.0, -1.5, -1.0], "tickSize": -5, "labels": false, "grid": false, "title": null}},
     "y": {"field": "y", "type": "quantitative", "scale": {"domain": [-1, 1], "nice": false, "zero": false}, "axis": {"orient": "right", "values": [-1.0, -0.5, 0.0, 0.5, 1.0], "tickSize": -5, "labels": false, "grid": false, "title": null}}
    }},
   {"data": {"name": "obs"}, "transform": [{"filter": "datum.panel == 3"}],
    "mark": {"type": "point", "shape": "circle", "filled": false, "color": "red", "size": 95, "strokeWidth": 1.3, "opacity": 1, "clip": true},
    "encoding": {
     "x": {"field": "x", "type": "quantitative", "scale": {"domain": [-2.2, -0.6], "nice": false, "zero": false}, "axis": {"orient": "top", "values": [-2.2,-2.1,-2.0,-1.9,-1.8,-1.7,-1.6,-1.5,-1.4,-1.3,-1.2,-1.1,-1.0,-0.9,-0.8,-0.7,-0.6], "tickSize": -3, "labels": false, "grid": false, "title": null}},
     "y": {"field": "y", "type": "quantitative", "scale": {"domain": [-1, 1], "nice": false, "zero": false}, "axis": {"orient": "right", "values": [-1.0,-0.9,-0.8,-0.7,-0.6,-0.5,-0.4,-0.3,-0.2,-0.1,0,0.1,0.2,0.3,0.4,0.5,0.6,0.7,0.8,0.9,1.0], "tickSize": -3, "labels": false, "grid": false, "title": null}}
    }},
   {"data": {"name": "olabels"}, "transform": [{"filter": "datum.panel == 3"}],
    "mark": {"type": "text", "color": "orange", "fontSize": 16, "fontWeight": "bold", "align": "center", "baseline": "middle"},
    "encoding": {
     "x": {"field": "x", "type": "quantitative", "scale": {"domain": [-2.2, -0.6], "nice": false, "zero": false}, "axis": null},
     "y": {"field": "y", "type": "quantitative", "scale": {"domain": [-1, 1], "nice": false, "zero": false}, "axis": null},
     "text": {"field": "text", "type": "nominal"}
    }},
   {"data": {"name": "star"}, "transform": [{"filter": "datum.panel == 3"}],
    "mark": {"type": "rule", "color": "red", "strokeWidth": 1.5},
    "encoding": {
     "x": {"field": "x", "type": "quantitative", "scale": {"domain": [-2.2, -0.6], "nice": false, "zero": false}, "axis": null},
     "y": {"field": "ylo", "type": "quantitative", "scale": {"domain": [-1, 1], "nice": false, "zero": false}, "axis": null},
     "y2": {"field": "yhi"}
    }},
   {"data": {"name": "star"}, "transform": [{"filter": "datum.panel == 3"}],
    "mark": {"type": "rule", "color": "red", "strokeWidth": 1.5},
    "encoding": {
     "x": {"field": "xlo", "type": "quantitative", "scale": {"domain": [-2.2, -0.6], "nice": false, "zero": false}, "axis": null},
     "x2": {"field": "xhi"},
     "y": {"field": "y", "type": "quantitative", "scale": {"domain": [-1, 1], "nice": false, "zero": false}, "axis": null}
    }},
   {"data": {"name": "star"}, "transform": [{"filter": "datum.panel == 3"}],
    "mark": {"type": "tick", "orient": "horizontal", "color": "red", "size": 7, "thickness": 1.5, "opacity": 1},
    "encoding": {
     "x": {"field": "x", "type": "quantitative", "scale": {"domain": [-2.2, -0.6], "nice": false, "zero": false}, "axis": null},
     "y": {"field": "ylo", "type": "quantitative", "scale": {"domain": [-1, 1], "nice": false, "zero": false}, "axis": null}
    }},
   {"data": {"name": "star"}, "transform": [{"filter": "datum.panel == 3"}],
    "mark": {"type": "tick", "orient": "horizontal", "color": "red", "size": 7, "thickness": 1.5, "opacity": 1},
    "encoding": {
     "x": {"field": "x", "type": "quantitative", "scale": {"domain": [-2.2, -0.6], "nice": false, "zero": false}, "axis": null},
     "y": {"field": "yhi", "type": "quantitative", "scale": {"domain": [-1, 1], "nice": false, "zero": false}, "axis": null}
    }},
   {"data": {"name": "star"}, "transform": [{"filter": "datum.panel == 3"}],
    "mark": {"type": "tick", "orient": "vertical", "color": "red", "size": 7, "thickness": 1.5, "opacity": 1},
    "encoding": {
     "x": {"field": "xlo", "type": "quantitative", "scale": {"domain": [-2.2, -0.6], "nice": false, "zero": false}, "axis": null},
     "y": {"field": "y", "type": "quantitative", "scale": {"domain": [-1, 1], "nice": false, "zero": false}, "axis": null}
    }},
   {"data": {"name": "star"}, "transform": [{"filter": "datum.panel == 3"}],
    "mark": {"type": "tick", "orient": "vertical", "color": "red", "size": 7, "thickness": 1.5, "opacity": 1},
    "encoding": {
     "x": {"field": "xhi", "type": "quantitative", "scale": {"domain": [-2.2, -0.6], "nice": false, "zero": false}, "axis": null},
     "y": {"field": "y", "type": "quantitative", "scale": {"domain": [-1, 1], "nice": false, "zero": false}, "axis": null}
    }},
   {"data": {"name": "star"}, "transform": [{"filter": "datum.panel == 3"}],
    "mark": {"type": "point", "shape": "circle", "filled": false, "color": "red", "size": 55, "strokeWidth": 1.3, "opacity": 1},
    "encoding": {
     "x": {"field": "x", "type": "quantitative", "scale": {"domain": [-2.2, -0.6], "nice": false, "zero": false}, "axis": null},
     "y": {"field": "y", "type": "quantitative", "scale": {"domain": [-1, 1], "nice": false, "zero": false}, "axis": null}
    }}
  ]
 }
]
}
